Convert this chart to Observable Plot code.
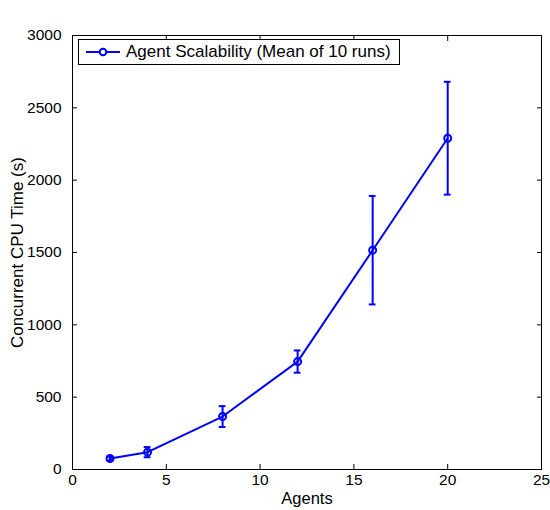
<!DOCTYPE html>
<html>
<head>
<meta charset="utf-8">
<script src="https://cdn.jsdelivr.net/npm/d3@7"></script>
<script src="https://cdn.jsdelivr.net/npm/@observablehq/plot@0.6"></script>
<style>
  body { margin: 0; background: #fff; font-family: "Liberation Sans", Arial, sans-serif; }
  #wrap { position: relative; width: 550px; height: 510px; }
  #legend { position: absolute; left: 78px; top: 39px; width: 322px; height: 26px; border: 1px solid #000; background: #fff;
    display: flex; align-items: center; font-size: 17px; box-sizing: border-box; white-space: nowrap; }
  #legend svg { margin-left: 6px; margin-right: 5px; }
</style>
</head>
<body>
<div id="wrap"></div>
<script>
const agents = [2, 4, 8, 12, 16, 20];
const cpuTime = [76, 120, 366, 746, 1516, 2290];
const errHalf = [12, 35, 72, 77, 375, 390];
const xTicks = [0, 5, 10, 15, 20, 25];
const yTicks = [0, 500, 1000, 1500, 2000, 2500, 3000];
const seriesName = "Agent Scalability (Mean of 10 runs)";
const xLabel = "Agents";
const yLabel = "Concurrent CPU Time (s)";

const data = agents.map((a, i) => ({x: a, y: cpuTime[i], lo: cpuTime[i] - errHalf[i], hi: cpuTime[i] + errHalf[i]}));
const blue = "#0000ff";
const capHalf = 0.18;

const chart = Plot.plot({
  width: 550, height: 510,
  marginLeft: 72, marginRight: 9, marginTop: 35, marginBottom: 41,
  style: {fontFamily: "Liberation Sans, Arial, sans-serif", fontSize: "15px", color: "#000", background: "#fff"},
  x: {domain: [0, 25], ticks: xTicks},
  y: {domain: [0, 3000], ticks: yTicks},
  marks: [
    Plot.frame({stroke: "#000", strokeWidth: 1}),
    Plot.axisX({ticks: xTicks, tickSize: -5, tickPadding: 9, fontSize: 15.5, tickFormat: d => String(d), label: null}),
    Plot.axisX({ticks: xTicks, tickSize: 0, tickPadding: 9, fontSize: 16.5, tickFormat: () => "", label: xLabel, labelAnchor: "center", labelArrow: "none", labelOffset: 34}),
    Plot.axisX({ticks: xTicks, anchor: "top", tickSize: -5, tickFormat: () => "", label: null}),
    Plot.axisY({ticks: yTicks, tickSize: -5, tickPadding: 16, fontSize: 15.5, tickFormat: d => String(d), label: null}),
    Plot.axisY({ticks: yTicks, tickSize: 0, tickPadding: 13, fontSize: 17, tickFormat: () => "", label: yLabel, labelAnchor: "center", labelArrow: "none", labelOffset: 62}),
    Plot.axisY({ticks: yTicks, anchor: "right", tickSize: -5, tickFormat: () => "", label: null}),
    Plot.line(data, {x: "x", y: "y", stroke: blue, strokeWidth: 2}),
    Plot.ruleX(data, {x: "x", y1: "lo", y2: "hi", stroke: blue, strokeWidth: 2}),
    Plot.ruleY(data, {y: "lo", x1: d => d.x - capHalf, x2: d => d.x + capHalf, stroke: blue, strokeWidth: 2}),
    Plot.ruleY(data, {y: "hi", x1: d => d.x - capHalf, x2: d => d.x + capHalf, stroke: blue, strokeWidth: 2}),
    Plot.dot(data, {x: "x", y: "y", r: 3.5, stroke: blue, strokeWidth: 2, fill: "none"})
  ]
});
const wrap = document.getElementById("wrap");
wrap.appendChild(chart);
const leg = document.createElement("div");
leg.id = "legend";
leg.innerHTML = `<svg width="36" height="12"><line x1="1" y1="6" x2="35" y2="6" stroke="${blue}" stroke-width="2"/><circle cx="18" cy="6" r="3.3" fill="#fff" stroke="${blue}" stroke-width="2"/></svg><span>${seriesName}</span>`;
wrap.appendChild(leg);
</script>
</body>
</html>
